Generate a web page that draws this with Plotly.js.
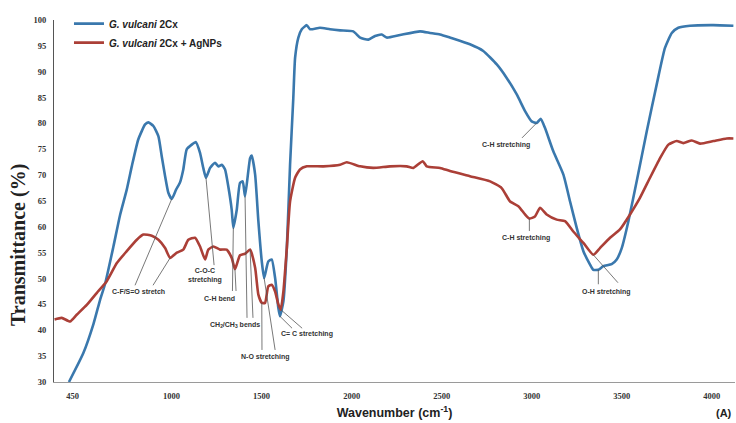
<!DOCTYPE html>
<html>
<head>
<meta charset="utf-8">
<script src="https://cdn.plot.ly/plotly-3.0.1.min.js"></script>
<style>
  html, body { margin: 0; padding: 0; background: #ffffff; }
  #chart { width: 736px; height: 423px; }
</style>
</head>
<body>
<div id="chart"></div>
<script>
// ---- data ----
const seriesNames = ['<i>G. vulcani</i> 2Cx', '<i>G. vulcani</i> 2Cx + AgNPs'];

const wnBlue = [430, 510, 566, 603, 631, 677, 714, 751, 779, 815, 853, 871, 899, 927, 945, 964, 982, 1001,
  1025, 1047, 1065, 1084, 1112, 1134, 1158, 1176, 1191, 1214, 1241, 1260, 1279, 1297, 1315, 1334, 1343,
  1362, 1380, 1395, 1408, 1436, 1445, 1464, 1482, 1501, 1514, 1537, 1556, 1575, 1593, 1602, 1621, 1640,
  1658, 1676, 1686, 1704, 1723, 1751, 1769, 1824, 1880, 1936, 2009, 2047, 2093, 2130, 2167, 2195, 2269,
  2380, 2435, 2491, 2546, 2657, 2731, 2806, 2861, 2917, 2963, 3000, 3028, 3050, 3074, 3120, 3176, 3213,
  3250, 3287, 3324, 3342, 3370, 3398, 3444, 3472, 3500, 3537, 3583, 3639, 3694, 3740, 3778, 3814, 3879,
  4009, 4120];
const tBlue = [30.0, 35.6, 41.2, 45.9, 49.0, 56.2, 62.3, 67.2, 71.7, 76.9, 79.8, 80.2, 79.5, 77.5, 73.7, 69.8, 66.6, 65.4,
  67.2, 68.6, 71.1, 75.0, 75.9, 76.4, 74.3, 71.4, 69.5, 71.4, 72.4, 71.7, 72.0, 71.1, 67.8, 63.3, 59.8,
  63.3, 68.5, 68.8, 65.9, 73.3, 73.8, 70.1, 61.1, 53.3, 50.1, 53.3, 53.7, 50.1, 44.3, 42.7, 45.6, 55.9,
  72.0, 84.9, 92.7, 96.6, 98.2, 99.0, 98.2, 98.5, 98.2, 98.0, 97.8, 96.6, 96.2, 96.9, 97.2, 96.6, 97.1,
  97.8, 97.5, 97.2, 96.6, 95.3, 94.0, 91.4, 88.8, 85.6, 82.4, 80.4, 80.1, 80.9, 79.1, 74.6, 70.1, 64.9,
  59.8, 55.3, 52.7, 51.7, 51.7, 52.4, 52.8, 53.7, 55.9, 61.1, 68.8, 78.5, 87.5, 94.6, 97.5, 98.5, 98.9,
  99.0, 98.9];

const wnRed = [350, 390, 436, 473, 529, 584, 640, 696, 751, 807, 843, 890, 927, 964, 992, 1029, 1065, 1093,
  1130, 1158, 1186, 1204, 1232, 1269, 1306, 1334, 1352, 1380, 1408, 1436, 1464, 1482, 1501, 1519, 1537,
  1556, 1575, 1593, 1606, 1621, 1640, 1658, 1686, 1713, 1751, 1843, 1936, 1973, 2047, 2120, 2213, 2306,
  2343, 2395, 2417, 2491, 2546, 2657, 2769, 2833, 2880, 2926, 2963, 2987, 3018, 3046, 3083, 3139, 3185,
  3231, 3287, 3342, 3379, 3435, 3490, 3546, 3601, 3657, 3713, 3759, 3805, 3842, 3889, 3935, 4009, 4083,
  4120];
const tRed = [42.1, 42.4, 41.7, 43.0, 44.9, 47.2, 49.5, 53.0, 55.3, 57.5, 58.5, 58.3, 57.5, 55.9, 54.0, 55.0, 55.6, 57.5,
  57.9, 56.2, 53.7, 55.6, 56.2, 55.6, 55.6, 54.0, 51.8, 54.5, 54.8, 55.6, 52.1, 46.9, 45.3, 45.3, 48.5,
  48.8, 47.5, 45.0, 44.0, 47.5, 55.9, 64.9, 69.5, 71.1, 71.7, 71.7, 72.0, 72.5, 71.7, 71.4, 71.7, 71.7,
  71.4, 72.7, 71.7, 71.4, 70.8, 69.8, 68.8, 67.5, 64.9, 64.0, 62.4, 61.6, 62.0, 63.7, 62.4, 61.4, 61.1,
  59.1, 56.9, 54.6, 55.9, 57.9, 59.5, 62.4, 65.6, 69.5, 73.3, 75.9, 76.6, 76.2, 76.7, 76.1, 76.6, 77.1,
  77.1];

const xTickVals = [450, 1000, 1500, 2000, 2500, 3000, 3500, 4000];
const yTickVals = [30, 35, 40, 45, 50, 55, 60, 65, 70, 75, 80, 85, 90, 95, 100];

// band assignments: label text, label centre, leader lines (series + wavenumber of the band, label end)
const bands = [
  {text: 'C-F/S=O stretch', x: 814, y: 47.5,
   leaders: [{s: 0, at: 1001, tx: 797, ty: 48.7}, {s: 1, at: 992, tx: 897, ty: 48.7}]},
  {text: 'C-O-C<br>stretching', x: 1186, y: 50.6,
   leaders: [{s: 0, at: 1191, tx: 1236, ty: 52.6}]},
  {text: 'C-H bend', x: 1264, y: 46.1,
   leaders: [{s: 0, at: 1343, tx: 1338, ty: 47.6}, {s: 1, at: 1352, tx: 1358, ty: 47.6}]},
  {text: 'CH<sub>2</sub>/CH<sub>3</sub> bends', x: 1352, y: 41.1,
   leaders: [{s: 0, at: 1408, tx: 1419, ty: 42.4}, {s: 1, at: 1436, tx: 1452, ty: 42.4}]},
  {text: 'N-O stretching', x: 1519, y: 34.9,
   leaders: [{s: 1, at: 1501, tx: 1502, ty: 36.2}, {s: 0, at: 1514, tx: 1575, ty: 36.2}]},
  {text: 'C= C stretching', x: 1752, y: 39.2,
   leaders: [{s: 0, at: 1602, tx: 1669, ty: 40.4}, {s: 1, at: 1606, tx: 1725, ty: 40.4}]},
  {text: 'C-H stretching', x: 2857, y: 75.9,
   leaders: [{s: 0, at: 3028, tx: 2946, ty: 77.2}]},
  {text: 'C-H stretching', x: 2968, y: 57.9,
   leaders: [{s: 1, at: 2987, tx: 2987, ty: 59.2}]},
  {text: 'O-H stretching', x: 3418, y: 47.5,
   leaders: [{s: 0, at: 3370, tx: 3370, ty: 48.9}, {s: 1, at: 3342, tx: 3479, ty: 49.2}]}
];

// ---- build ----
const series = [{x: wnBlue, y: tBlue}, {x: wnRed, y: tRed}];
const colors = ['#3a78ad', '#ab3f37'];

function valueAt(s, w) {
  const xs = series[s].x, ys = series[s].y;
  let best = 0;
  for (let i = 1; i < xs.length; i++) if (Math.abs(xs[i] - w) < Math.abs(xs[best] - w)) best = i;
  return {x: xs[best], y: ys[best]};
}

const traces = series.map((d, i) => ({
  type: 'scatter', mode: 'lines', x: d.x, y: d.y, name: seriesNames[i],
  line: {color: colors[i], width: 2.6, shape: 'spline', smoothing: 0.5},
  hoverinfo: 'x+y'
}));

const annotations = [];
const shapes = [];
bands.forEach(b => {
  annotations.push({xref: 'x', yref: 'y', x: b.x, y: b.y, text: b.text, showarrow: false,
    font: {family: 'Liberation Sans, Arial, sans-serif', size: 7, color: '#333', weight: 'bold'},
    xanchor: 'center', yanchor: 'middle'});
  b.leaders.forEach(l => {
    const p = valueAt(l.s, l.at);
    shapes.push({type: 'line', xref: 'x', yref: 'y', x0: p.x, y0: p.y, x1: l.tx, y1: l.ty,
      line: {color: '#555', width: 0.8}, layer: 'above'});
  });
});

annotations.push({xref: 'paper', yref: 'paper', x: -0.053, y: 0.378, text: 'Transmittance (%)',
  textangle: -90, showarrow: false, xanchor: 'center', yanchor: 'middle',
  font: {family: 'Liberation Serif, Times New Roman, serif', size: 20, color: '#222', weight: 'bold'}});
annotations.push({xref: 'paper', yref: 'paper', x: 0.998, y: -0.086, text: '(A)', showarrow: false,
  xanchor: 'right', yanchor: 'middle',
  font: {family: 'Liberation Sans, Arial, sans-serif', size: 11, color: '#222', weight: 'bold'}});

const layout = {
  width: 736, height: 423,
  margin: {l: 54, r: 1, t: 20, b: 41, pad: 0},
  paper_bgcolor: '#ffffff', plot_bgcolor: '#ffffff',
  showlegend: true,
  legend: {x: 0.022, y: 1.03, xanchor: 'left', yanchor: 'top', bgcolor: 'rgba(0,0,0,0)',
    font: {family: 'Liberation Sans, Arial, sans-serif', size: 10, color: '#222', weight: 'bold'},
    itemwidth: 30, tracegroupgap: 0},
  xaxis: {
    range: [347, 4129], showgrid: false, zeroline: false, showline: true, linecolor: '#9a9a9a', linewidth: 1,
    ticks: '', tickmode: 'array', tickvals: xTickVals, ticktext: xTickVals.map(String),
    ticklabelstandoff: 6,
    tickfont: {family: 'Liberation Serif, Times New Roman, serif', size: 8.5, color: '#333', weight: 'bold'},
    title: {text: 'Wavenumber (cm<sup>-1</sup>)', standoff: 8,
      font: {family: 'Liberation Sans, Arial, sans-serif', size: 12.5, color: '#222', weight: 'bold'}}
  },
  yaxis: {
    range: [30, 100], showgrid: false, zeroline: false, showline: true, linecolor: '#555', linewidth: 1,
    ticks: '', tickmode: 'array', tickvals: yTickVals, ticktext: yTickVals.map(String),
    ticklabelstandoff: 5,
    tickfont: {family: 'Liberation Serif, Times New Roman, serif', size: 8.5, color: '#333', weight: 'bold'}
  },
  annotations: annotations,
  shapes: shapes
};

Plotly.newPlot('chart', traces, layout, {displayModeBar: false, staticPlot: true});
</script>
</body>
</html>
